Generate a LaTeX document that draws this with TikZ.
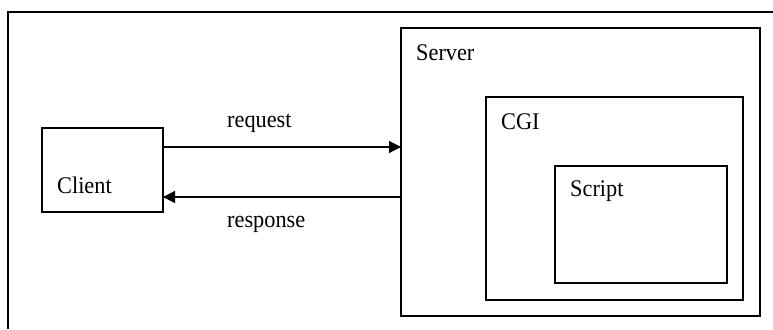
\documentclass[tikz,border=0pt]{standalone}
\usepackage{fontspec}
\setmainfont{Liberation Serif}
\usetikzlibrary{arrows.meta}
\newcommand{\tallword}[1]{\scalebox{1}[1.07]{#1}}
\begin{document}
\begin{tikzpicture}[x=1pt,y=-1pt,
  box/.style={draw, line width=1.3pt, inner sep=0pt, outer sep=0pt},
  lbl/.style={anchor=base west, inner sep=0pt, font=\fontsize{22.3}{24}\selectfont},
  arr/.style={line width=1.3pt, -{Triangle[length=12pt,width=12pt]}}]
  \useasboundingbox (0,0) rectangle (773,329);
  % frame around the whole figure (open at the right and bottom)
  \draw[line width=1.4pt] (8,329) -- (8,12) -- (773,12);
  % boxes
  \node[box, minimum width=121pt, minimum height=84pt] (client) at (102.5,170) {};
  \node[box, minimum width=359pt, minimum height=288pt] (server) at (580.5,172) {};
  \node[box, minimum width=257pt, minimum height=203pt] (cgi) at (614.5,198.5) {};
  \node[box, minimum width=172pt, minimum height=117pt] (script) at (641,224.5) {};
  % box titles
  \node[lbl] (clientlbl) at (57,193) {\tallword{Client}};
  \node[lbl] (serverlbl) at (416,60) {\tallword{Server}};
  \node[lbl] (cgilbl) at (501,129) {\tallword{CGI}};
  \node[lbl] (scriptlbl) at (570,196) {\tallword{Script}};
  % request / response connectors
  \coordinate (reqy) at (0,147);
  \coordinate (respy) at (0,197);
  \draw[arr] (client.east |- reqy) -- (server.west |- reqy);
  \draw[arr] (server.west |- respy) -- (client.east |- respy);
  \node[lbl] (reqlbl) at (227,127) {\tallword{request}};
  \node[lbl] (resplbl) at (227,227) {\tallword{response}};
\end{tikzpicture}
\end{document}
